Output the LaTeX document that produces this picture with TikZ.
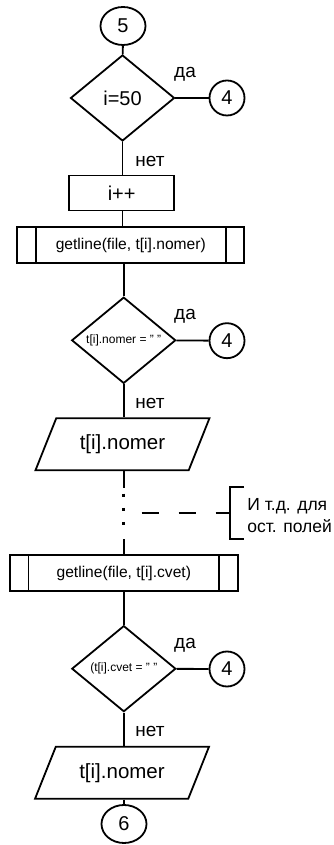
\documentclass[tikz,border=0pt]{standalone}
\usepackage{fontspec}
\setmainfont{Liberation Sans}
\usetikzlibrary{shapes.geometric}

\begin{document}
\begin{tikzpicture}[x=1pt, y=1pt, line width=1.8pt,
		term/.style={draw, ellipse, minimum width=45, minimum height=38, inner sep=0, font=\fontsize{20}{24}\selectfont},
		conn/.style={draw, circle, minimum size=35, inner sep=0, font=\fontsize{20}{24}\selectfont},
		cond/.style={draw, diamond, minimum width=104, minimum height=86, inner sep=0},
		proc/.style={draw, rectangle, minimum width=105, minimum height=35, inner sep=0, font=\fontsize{20}{24}\selectfont},
		subproc/.style={draw, rectangle, minimum height=36, inner sep=0, font=\fontsize{15.6}{18}\selectfont},
		io/.style={draw, trapezium, trapezium left angle=55, trapezium right angle=125, trapezium stretches,
			minimum width=174, minimum height=52, inner sep=0, font=\fontsize{20.5}{24}\selectfont},
		lbl/.style={inner sep=0, font=\fontsize{19}{22}\selectfont},
		gapline/.style={dash pattern=on 16.7pt off 51.3pt on 30pt},
		dotline/.style={line width=3.2pt, dash pattern=on 3.2pt off 11pt}]
		\useasboundingbox (0,0) rectangle (333,845);
		\node[term] (s5) at (123,819) {5};
		\node[cond, font=\fontsize{20}{24}\selectfont] (d1) at (122.5,747) {i=50};
		\node[conn] (c4a) at (227,747) {4};
		\node[lbl] (y1) at (185,771) {да};
		\node[lbl] (n1) at (150,684) {нет};
		\node[proc] (inc) at (121.7,652) {i++};
		\node[subproc, minimum width=227] (gl1) at (130.8,600) {getline(file, t[i].nomer)};
		\node[cond, font=\fontsize{12}{14}\selectfont] (d2) at (123.7,504.7) {t[i].nomer = " "};
		\node[conn] (c4b) at (227,504.3) {4};
		\node[lbl] (y2) at (185,528.3) {да};
		\node[lbl] (n2) at (150,441.7) {нет};
		\node[io] (out1) at (122.5,400.8) {t[i].nomer};
		\node[subproc, minimum width=227.7] (gl2) at (123.8,272) {getline(file, t[i].cvet)};
		\node[cond, font=\fontsize{12}{14}\selectfont] (d3) at (123.8,176.3) {(t[i].cvet = " "};
		\node[conn] (c4c) at (227,176) {4};
		\node[lbl] (y3) at (185,200) {да};
		\node[lbl] (n3) at (150,113.3) {нет};
		\node[io] (out2) at (122,72.2) {t[i].nomer};
		\node[term] (s6) at (124,21) {6};
		% note on the skipped fields
		\node[inner sep=0, anchor=west, align=left, font=\fontsize{17.5}{22.4}\selectfont] (note) at (246.5,329.5) {И т.д. для\\ост. полей};
		\coordinate (bt) at (244,357.7);
		\coordinate (bb) at (244,306);
		\coordinate (bm) at (230,332.3);
		\coordinate (dl) at (141.7,332.3);
		\coordinate (dtop) at (123.7,351.4);
		\coordinate (dbot) at (123.7,318);
		\foreach \p in {gl1,gl2} {
			\draw ([xshift=19.4]\p.north west) -- ([xshift=19.4]\p.south west);
			\draw ([xshift=-19.4]\p.north east) -- ([xshift=-19.4]\p.south east);
		}
		\draw (s5) -- (d1);
		\draw (d1) -- (c4a);
		\draw (d1.south) -- (d1.south |- inc.north);
		\draw (d1.south |- inc.south) -- (d1.south |- gl1.north);
		\draw (d2.north |- gl1.south) -- (d2.north);
		\draw (d2) -- (c4b);
		\draw (d2.south) -- (d2.south |- out1.north);
		\draw[gapline] (d2.south |- out1.south) -- (d2.south |- gl2.north);
		\draw[dotline] (dtop) -- (dbot);
		\draw[dash pattern=on 17pt off 20pt] (dl) -- (bm);
		\draw (bt) -- (bt -| bm) -- (bb -| bm) -- (bb);
		\draw (d3.north |- gl2.south) -- (d3.north);
		\draw (d3) -- (c4c);
		\draw (d3.south) -- (d3.south |- out2.north);
		\draw (s6.north |- out2.south) -- (s6);
	\end{tikzpicture}
\end{document}
